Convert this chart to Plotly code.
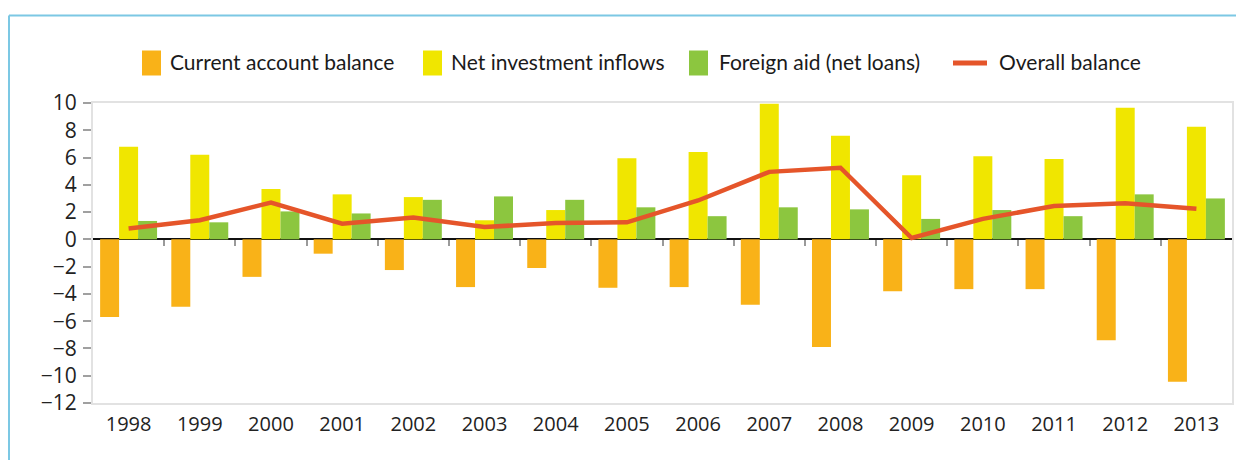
import plotly.graph_objects as go

years = ["1998", "1999", "2000", "2001", "2002", "2003", "2004", "2005",
         "2006", "2007", "2008", "2009", "2010", "2011", "2012", "2013"]
current_account = [-5.7, -4.95, -2.75, -1.05, -2.25, -3.5, -2.1, -3.55,
                   -3.5, -4.8, -7.9, -3.8, -3.65, -3.65, -7.4, -10.45]
net_investment = [6.8, 6.2, 3.7, 3.3, 3.1, 1.4, 2.15, 5.95,
                  6.4, 9.95, 7.6, 4.7, 6.1, 5.9, 9.65, 8.25]
foreign_aid = [1.35, 1.25, 2.05, 1.9, 2.9, 3.15, 2.9, 2.35,
               1.7, 2.35, 2.2, 1.5, 2.15, 1.7, 3.3, 3.0]
overall_balance = [0.8, 1.4, 2.7, 1.15, 1.6, 0.9, 1.2, 1.25,
                   2.85, 4.95, 5.25, 0.1, 1.5, 2.45, 2.65, 2.25]
y_ticks = [10, 8, 6, 4, 2, 0, -2, -4, -6, -8, -10, -12]
series_names = ["Current account balance", "Net investment inflows",
                "Foreign aid (net loans)", "Overall balance"]

ORANGE = "#F9B218"
YELLOW = "#F0E600"
GREEN = "#8CC63F"
RED = "#E5552A"
colors = [ORANGE, YELLOW, GREEN, RED]

# page has an 8px body margin; figure is sized to fit the window exactly
OFF = 8
W, H = 1244 - 2 * OFF, 468 - 2 * OFF
L, T = 93 - OFF, 103 - OFF
R = W - (1232 - OFF)
B = H - (403 - OFF)
pw = W - L - R
ph = H - T - B


def px_x(px):
    return (px - OFF - L) / pw


def px_y(py):
    return (H - B - (py - OFF)) / ph


fig = go.Figure()
for name, vals, col in zip(series_names[:3], [current_account, net_investment, foreign_aid], colors[:3]):
    fig.add_trace(go.Bar(name=name, x=years, y=vals, showlegend=False,
                         marker=dict(color=col, line=dict(width=0))))
fig.add_trace(go.Scatter(name=series_names[3], x=years, y=overall_balance, showlegend=False,
                         mode="lines", line=dict(color=RED, width=4.5)))

# tick marks at category boundaries along the zero line
boundaries = [i + 0.5 for i in range(len(years) - 1)]
fig.add_trace(go.Scatter(x=[0.5], y=[None], xaxis="x2", yaxis="y",
                         showlegend=False, hoverinfo="skip", mode="lines"))

# legend (drawn as key swatches + text)
LEG_CY = 63
sym_x = [142, 423, 689, 953]
text_x = [170, 451, 719, 999]
shapes = []
annotations = []
for i, (name, col) in enumerate(zip(series_names, colors)):
    if i < 3:
        shapes.append(dict(type="rect", xref="paper", yref="paper",
                           x0=px_x(sym_x[i]), x1=px_x(sym_x[i] + 19),
                           y0=px_y(LEG_CY - 12.5), y1=px_y(LEG_CY + 12.5),
                           fillcolor=col, line=dict(width=0)))
    else:
        shapes.append(dict(type="line", xref="paper", yref="paper",
                           x0=px_x(sym_x[i]), x1=px_x(sym_x[i] + 34),
                           y0=px_y(LEG_CY), y1=px_y(LEG_CY),
                           line=dict(color=col, width=5)))
    annotations.append(dict(text=name, xref="paper", yref="paper",
                            x=px_x(text_x[i] - 2), y=px_y(LEG_CY - 1.5), xanchor="left", yanchor="middle",
                            showarrow=False,
                            font=dict(family="Lato, sans-serif", size=21, color="#1a1a1a")))

shapes += [
    dict(type="line", xref="paper", yref="paper", x0=px_x(9), x1=px_x(1250),
         y0=px_y(15.5), y1=px_y(15.5), line=dict(color="#7CC8E4", width=2)),
    dict(type="line", xref="paper", yref="paper", x0=px_x(9), x1=px_x(9),
         y0=px_y(15.5), y1=px_y(475), line=dict(color="#7CC8E4", width=2)),
]

fig.update_layout(
    width=W, height=H,
    margin=dict(l=L, r=R, t=T, b=B, pad=0, autoexpand=False),
    paper_bgcolor="white", plot_bgcolor="white",
    barmode="group", bargap=0.2, bargroupgap=0,
    font=dict(family="Open Sans, sans-serif", color="#222222"),
    showlegend=False,
    xaxis=dict(type="category", range=[-0.5, 15.5], showgrid=False,
               showline=True, linecolor="#E2E2E2", linewidth=2, mirror=True,
               ticks="", tickfont=dict(family="Open Sans, sans-serif", size=20, color="#222222"),
               ticklabelstandoff=2),
    xaxis2=dict(overlaying="x", anchor="free", position=12 / 22,
                range=[-0.5, 15.5], tickmode="array", tickvals=boundaries,
                ticks="outside", ticklen=6, tickwidth=1.5, tickcolor="#9a9a9a",
                showticklabels=False, showgrid=False, showline=False, zeroline=False),
    yaxis=dict(range=[-12, 10], tickmode="array", tickvals=y_ticks,
               ticktext=[str(v) if v >= 0 else "\u2212" + str(-v) for v in y_ticks],
               showgrid=False, zeroline=True, zerolinecolor="#111111", zerolinewidth=1.6,
               showline=True, linecolor="#E2E2E2", linewidth=2, mirror=True,
               ticks="outside", ticklen=8, tickwidth=1.5, tickcolor="#a0a0a0",
               tickfont=dict(family="Open Sans, sans-serif", size=21, color="#222222"),
               ticklabelstandoff=2),
    shapes=shapes,
    annotations=annotations,
)

fig.write_html("out.html")
